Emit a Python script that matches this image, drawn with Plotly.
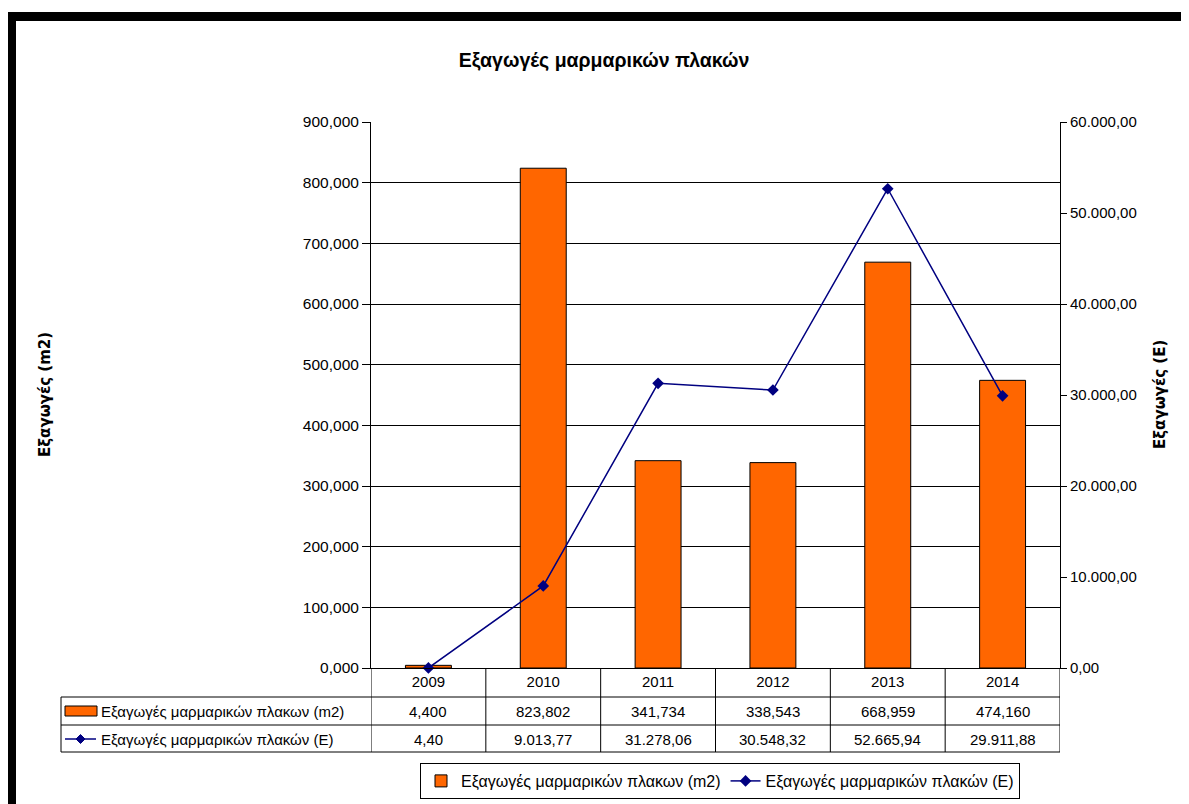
"""Excel-style combo chart: marble slab exports (m2 bars, E line) with data table."""

import plotly.graph_objects as go

YEARS = ["2009", "2010", "2011", "2012", "2013", "2014"]
EXPORTS_M2 = [4.400, 823.802, 341.734, 338.543, 668.959, 474.160]
EXPORTS_EUR = [4.40, 9013.77, 31278.06, 30548.32, 52665.94, 29911.88]

NAME_M2 = "Εξαγωγές μαρμαρικών πλακων (m2)"
NAME_EUR = "Εξαγωγές μαρμαρικών πλακών (E)"
TITLE = "Εξαγωγές μαρμαρικών πλακών"
YTITLE_LEFT = "Εξαγωγές (m2)"
YTITLE_RIGHT = "Εξαγωγές (E)"

COLOR_BAR = "#FF6600"
COLOR_LINE = "#000080"
FONT = "Liberation Sans, Arial, sans-serif"
FONT_TITLE_AX = "DejaVu Sans, Tahoma, sans-serif"

# page has an 8px body margin, so the figure sits 8px in from the window corner
OFF = 8
WIN_W, WIN_H = 1189, 804
W, H = WIN_W - OFF, WIN_H - OFF
L, R, T, B = 371, 1060, 122, 668  # plot area in window pixels


def px(x):
    return (x - L) / (R - L)


def py(y):
    return (B - y) / (B - T)


def fmt_gr(v, decimals):
    s = f"{v:,.{decimals}f}"
    return s.replace(",", "#").replace(".", ",").replace("#", ".")


fig = go.Figure()
fig.add_trace(
    go.Bar(
        x=YEARS,
        y=EXPORTS_M2,
        name=NAME_M2,
        width=0.4,
        marker={"color": COLOR_BAR, "line": {"color": "#000000", "width": 1}},
    )
)
fig.add_trace(
    go.Scatter(
        x=YEARS,
        y=EXPORTS_EUR,
        name=NAME_EUR,
        yaxis="y2",
        mode="lines+markers",
        line={"color": COLOR_LINE, "width": 1.5},
        marker={"symbol": "diamond", "size": 9, "color": COLOR_LINE},
        cliponaxis=False,
    )
)

shapes = []
# thick frame on top and left
shapes.append(dict(type="rect", xref="paper", yref="paper", x0=px(7), x1=px(WIN_W + 5), y0=py(12), y1=py(21),
                   fillcolor="black", line={"width": 0}, layer="above"))
shapes.append(dict(type="rect", xref="paper", yref="paper", x0=px(7), x1=px(16), y0=py(12), y1=py(WIN_H + 5),
                   fillcolor="black", line={"width": 0}, layer="above"))

# data table grid
for y in [697, 725, 752]:
    shapes.append(dict(type="line", xref="paper", yref="paper", x0=px(61), x1=1, y0=py(y), y1=py(y),
                       line={"color": "black", "width": 1}))
for i in range(len(YEARS) + 1):
    shapes.append(dict(type="line", xref="x", yref="paper", x0=i - 0.5, x1=i - 0.5, y0=0, y1=py(752),
                       line={"color": "black", "width": 1}))
shapes.append(dict(type="line", xref="paper", yref="paper", x0=px(61), x1=px(61), y0=py(697), y1=py(752),
                   line={"color": "black", "width": 1}))

# row symbols
shapes.append(dict(type="rect", xref="paper", yref="paper", x0=px(65), x1=px(97), y0=py(706), y1=py(716),
                   fillcolor=COLOR_BAR, line={"color": "black", "width": 1}))
shapes.append(dict(type="line", xref="paper", yref="paper", x0=px(65), x1=px(96), y0=py(739), y1=py(739),
                   line={"color": COLOR_LINE, "width": 1.5}))
cx, cy, d = 80.5, 739, 4.5
shapes.append(dict(type="path", xref="paper", yref="paper",
                   path=f"M{px(cx - d)},{py(cy)} L{px(cx)},{py(cy - d)} L{px(cx + d)},{py(cy)} L{px(cx)},{py(cy + d)} Z",
                   fillcolor=COLOR_LINE, line={"color": COLOR_LINE, "width": 1}))

annotations = []
row_y = [py(711), py(739)]
cell_font = {"family": FONT, "size": 15, "color": "black"}
for i in range(len(YEARS)):
    annotations.append(dict(x=i, xref="x", y=row_y[0], yref="paper", text=fmt_gr(EXPORTS_M2[i], 3),
                            xanchor="center", yanchor="middle", showarrow=False, font=cell_font))
    annotations.append(dict(x=i, xref="x", y=row_y[1], yref="paper", text=fmt_gr(EXPORTS_EUR[i], 2),
                            xanchor="center", yanchor="middle", showarrow=False, font=cell_font))
for name, y in zip([NAME_M2, NAME_EUR], row_y):
    annotations.append(dict(x=px(99), xref="paper", y=y, yref="paper", text=name, xanchor="left",
                            yanchor="middle", showarrow=False, font=cell_font))

axis_title_font = {"family": FONT_TITLE_AX, "size": 15, "color": "black"}
annotations.append(dict(x=px(45), xref="paper", y=0.5, yref="paper", text=f"<b>{YTITLE_LEFT}</b>",
                        textangle=-90, xanchor="center", yanchor="middle", showarrow=False,
                        font=axis_title_font))
annotations.append(dict(x=px(1160), xref="paper", y=0.5, yref="paper", text=f"<b>{YTITLE_RIGHT}</b>",
                        textangle=-90, xanchor="center", yanchor="middle", showarrow=False,
                        font=axis_title_font))

fig.update_layout(
    width=W,
    height=H,
    paper_bgcolor="white",
    plot_bgcolor="white",
    separators=",.",
    font={"family": FONT, "size": 15, "color": "black"},
    margin={"l": L - OFF, "r": W - (R - OFF), "t": T - OFF, "b": H - (B - OFF), "pad": 0},
    title={"text": f"<b>{TITLE}</b>", "x": (604 - OFF) / W, "xanchor": "center", "y": 1 - (60 - OFF) / H,
           "yanchor": "middle", "font": {"family": FONT, "size": 19.5, "color": "black"}},
    showlegend=True,
    legend={"orientation": "h", "xref": "container", "yref": "container",
            "x": (720 - OFF) / W, "xanchor": "center", "y": 1 - (763 - OFF) / H, "yanchor": "top",
            "bordercolor": "black", "borderwidth": 1, "bgcolor": "white",
            "font": {"family": FONT, "size": 16, "color": "black"}, "traceorder": "normal"},
    shapes=shapes,
    annotations=annotations,
)
fig.update_xaxes(type="category", range=[-0.5, 5.5], showline=True, linecolor="black", linewidth=1,
                 ticks="", showgrid=False, tickfont={"size": 15}, automargin=False)
fig.update_layout(
    yaxis={"range": [0, 900], "dtick": 100, "tickformat": ",.3f", "showline": True, "linecolor": "black",
           "linewidth": 1, "ticks": "outside", "ticklen": 8, "tickcolor": "black", "showgrid": True,
           "gridcolor": "#000000", "gridwidth": 1, "zeroline": False, "tickfont": {"size": 15.5},
           "automargin": False},
    yaxis2={"range": [0, 60000], "dtick": 10000, "tickformat": ",.2f", "overlaying": "y", "side": "right",
            "showline": True, "linecolor": "black", "linewidth": 1, "ticks": "outside", "ticklen": 6,
            "tickcolor": "black", "showgrid": False, "zeroline": False, "tickfont": {"size": 15},
            "automargin": False},
)

fig.write_html("out.html")
